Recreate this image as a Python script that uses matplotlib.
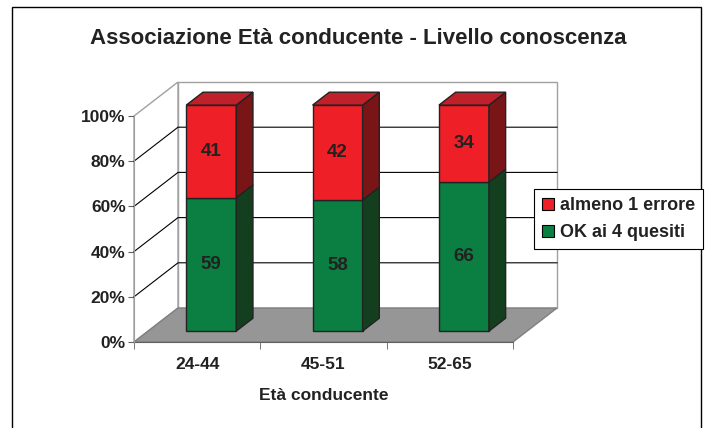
import matplotlib
matplotlib.use("Agg")
import matplotlib.pyplot as plt
from matplotlib.patches import Polygon, Rectangle
from matplotlib.lines import Line2D

plt.rcParams['font.family'] = ['Liberation Sans', 'DejaVu Sans']
plt.rcParams['font.weight'] = 'bold'

# dati
categorie = ['24-44', '45-51', '52-65']
ok_4_quesiti = [59, 58, 66]
almeno_1_errore = [41, 42, 34]
serie_nomi = ['almeno 1 errore', 'OK ai 4 quesiti']
y_ticks = [0, 20, 40, 60, 80, 100]

# colori (fronte, lato, sopra)
rosso = ('#ee1f26', '#7a1517', '#c0202a')
verde = ('#0b7f41', '#143f1e', '#0a6434')
bordo = '#222222'

W, H = 707, 428
fig = plt.figure(figsize=(W / 100, H / 100), dpi=100)

# cornice della figura (senza bordo in basso)
fig.patches.append(Rectangle((12 / W, -0.1), (701 - 12) / W, 1.1 - 7 / H,
                             transform=fig.transFigure, fill=False,
                             edgecolor='black', lw=1.0))

# assi sul piano frontale
x0, x1 = 134, 513
yb, yt = 342, 116
ax = fig.add_axes([x0 / W, 1 - yb / H, (x1 - x0) / W, (yb - yt) / H])
n = len(categorie)
ax.set_xlim(0, n)
ax.set_ylim(0, 100)

# profondità in unità dati
px_x = (x1 - x0) / n
px_y = (yb - yt) / 100
dx = 44 / px_x
dy = 34 / px_y

# pareti e pavimento
ax.add_patch(Polygon([(dx, dy), (n + dx, dy), (n + dx, 100 + dy), (dx, 100 + dy)],
                     closed=True, facecolor='white', edgecolor='#a0a0a0', lw=1.0,
                     zorder=1, clip_on=False))
ax.add_patch(Polygon([(0, 0), (dx, dy), (dx, 100 + dy), (0, 100)],
                     closed=True, facecolor='white', edgecolor='#a0a0a0', lw=1.0,
                     zorder=1, clip_on=False))
ax.add_patch(Polygon([(0, 0), (n, 0), (n + dx, dy), (dx, dy)],
                     closed=True, facecolor='#969696', edgecolor='#808080', lw=1.0,
                     zorder=2, clip_on=False))

# griglia
for v in y_ticks[1:-1]:
    ax.plot([0, dx, n + dx], [v, v + dy, v + dy], color='black', lw=0.8,
            zorder=2, clip_on=False)

# barre 3D
w = 50 / px_x
f0, f1 = 0.32, 0.70
sx, sy = (f1 - f0) * dx, (f1 - f0) * dy


def barra(xc, b, t, col, top):
    xl = xc - w / 2 + f0 * dx
    yo = f0 * dy
    ax.add_patch(Polygon([(xl, yo + b), (xl + w, yo + b), (xl + w, yo + t), (xl, yo + t)],
                         closed=True, facecolor=col[0], edgecolor=bordo, lw=1.0,
                         zorder=5, clip_on=False))
    ax.add_patch(Polygon([(xl + w, yo + b), (xl + w + sx, yo + b + sy),
                          (xl + w + sx, yo + t + sy), (xl + w, yo + t)],
                         closed=True, facecolor=col[1], edgecolor=bordo, lw=1.0,
                         zorder=5, clip_on=False))
    if top:
        ax.add_patch(Polygon([(xl, yo + t), (xl + w, yo + t), (xl + w + sx, yo + t + sy),
                              (xl + sx, yo + t + sy)],
                             closed=True, facecolor=col[2], edgecolor=bordo, lw=1.0,
                             zorder=5, clip_on=False))
    ax.text(xl + w / 2, yo + (b + t) / 2, str(t - b), ha='center', va='center',
            fontsize=13.5, fontweight='bold', color=bordo, zorder=6)


for i in range(n):
    xc = i + 0.5
    barra(xc, 0, ok_4_quesiti[i], verde, False)
    barra(xc, ok_4_quesiti[i], ok_4_quesiti[i] + almeno_1_errore[i], rosso, True)

# assi e tick
for s in ['top', 'right']:
    ax.spines[s].set_visible(False)
ax.spines['left'].set_color('#a0a0a0')
ax.spines['bottom'].set_color('#606060')
ax.spines['left'].set_zorder(3)
ax.patch.set_visible(False)

ax.set_yticks(y_ticks)
ax.set_yticklabels([f'{v}%' for v in y_ticks])
ax.set_xticks([i + 0.5 for i in range(n)])
ax.set_xticklabels(categorie)
ax.set_xticks(range(n + 1), minor=True)
ax.tick_params(axis='x', which='major', length=0, pad=11, labelsize=12.5)
ax.tick_params(axis='x', which='minor', length=5, color='#606060', direction='out')
ax.tick_params(axis='y', length=4, color='#606060', direction='out', pad=2, labelsize=12.5)
for lab in ax.get_xticklabels() + ax.get_yticklabels():
    lab.set_fontweight('bold')
    lab.set_color(bordo)

ax.set_xlabel('Età conducente', fontsize=12.5, fontweight='bold', color=bordo, labelpad=11)

fig.text(358 / W, 1 - 38 / H, 'Associazione Età conducente - Livello conoscenza',
         ha='center', va='center', fontsize=16, fontweight='bold', color=bordo)

# legenda
handles = [Line2D([], [], marker='s', ls='none', markersize=9, markerfacecolor=c[0],
                  markeredgecolor='black', markeredgewidth=0.8)
           for c in (rosso, verde)]
leg = fig.legend(handles, serie_nomi, loc='upper left',
                 bbox_to_anchor=(534 / W, 1 - 189 / H), borderaxespad=0,
                 frameon=True, fancybox=False, edgecolor='black', framealpha=1,
                 prop={'size': 13, 'weight': 'bold'}, handlelength=0.7,
                 handletextpad=0.3, labelspacing=0.55, borderpad=0.45)
leg.get_frame().set_linewidth(0.8)
for t in leg.get_texts():
    t.set_color(bordo)

fig.savefig('out.png', dpi=100)
